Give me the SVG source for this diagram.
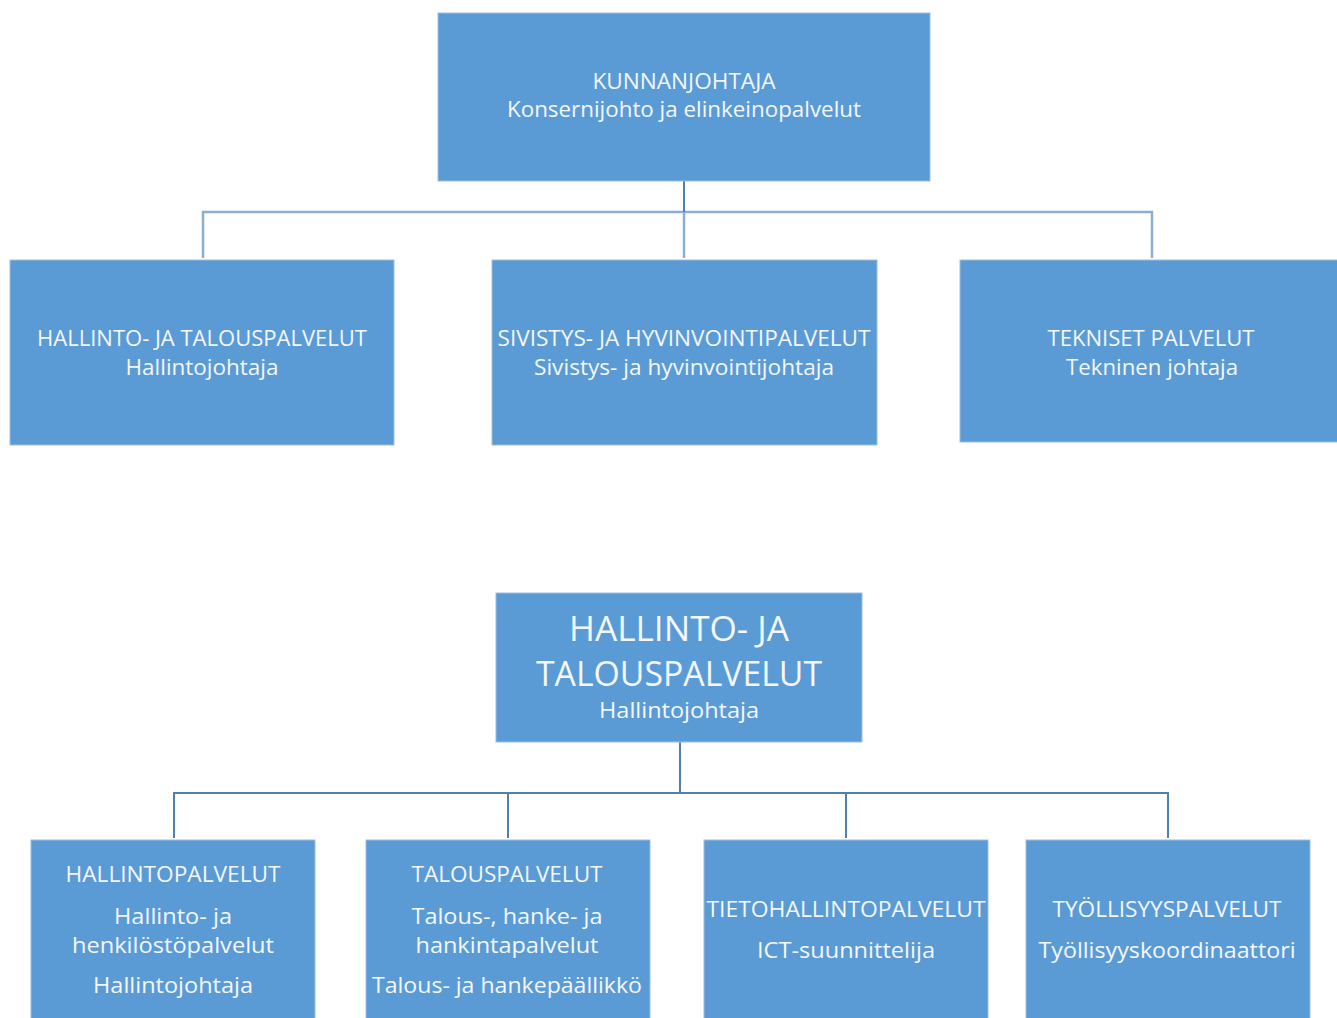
<svg xmlns="http://www.w3.org/2000/svg" width="1337" height="1018" viewBox="0 0 1337 1018">
<style>
.box{fill:#5B9BD5;stroke:#9DBEE2;stroke-width:1}
text{font-family:"Open Sans","Liberation Sans",sans-serif;fill:#F4F7FB;text-anchor:middle;font-size:22px}
.big{font-size:35px}
.c1{fill:none;stroke:#8DAED0;stroke-width:2.5}
.c2{fill:none;stroke:#4F80AE;stroke-width:2}
</style>
<rect width="1337" height="1018" fill="#FFFFFF"/>
<g id="connectors">
<path class="c1" d="M203 258V212H1152V258M684 212V258"/>
<path class="c2" d="M684 181V212"/>
<path class="c2" d="M680 742V793M174 838V793H1168V838M508 793V838M846 793V838"/>
</g>
<g id="kunnanjohtaja">
<rect class="box" x="438" y="13" width="492" height="168"/>
<text x="684" y="89" textLength="183" lengthAdjust="spacingAndGlyphs">KUNNANJOHTAJA</text>
<text x="684" y="117" textLength="354" lengthAdjust="spacingAndGlyphs">Konsernijohto ja elinkeinopalvelut</text>
</g>
<g id="hallinto">
<rect class="box" x="10" y="260" width="384" height="185"/>
<text x="202" y="346" textLength="330" lengthAdjust="spacingAndGlyphs">HALLINTO- JA TALOUSPALVELUT</text>
<text x="202" y="375" textLength="153" lengthAdjust="spacingAndGlyphs">Hallintojohtaja</text>
</g>
<g id="sivistys">
<rect class="box" x="492" y="260" width="385" height="185"/>
<text x="684" y="346" textLength="373" lengthAdjust="spacingAndGlyphs">SIVISTYS- JA HYVINVOINTIPALVELUT</text>
<text x="684" y="375" textLength="300" lengthAdjust="spacingAndGlyphs">Sivistys- ja hyvinvointijohtaja</text>
</g>
<g id="tekniset">
<rect class="box" x="960" y="260" width="380" height="182"/>
<text x="1151" y="346" textLength="207" lengthAdjust="spacingAndGlyphs">TEKNISET PALVELUT</text>
<text x="1152" y="375" textLength="172" lengthAdjust="spacingAndGlyphs">Tekninen johtaja</text>
</g>
<g id="hallinto-talous">
<rect class="box" x="496" y="593" width="366" height="149"/>
<text class="big" x="679" y="641" textLength="220" lengthAdjust="spacingAndGlyphs">HALLINTO- JA</text>
<text class="big" x="679" y="686" textLength="286" lengthAdjust="spacingAndGlyphs">TALOUSPALVELUT</text>
<text x="679" y="718" textLength="160" lengthAdjust="spacingAndGlyphs">Hallintojohtaja</text>
</g>
<g id="hallintopalvelut">
<rect class="box" x="31" y="840" width="284" height="190"/>
<text x="173" y="882" textLength="215" lengthAdjust="spacingAndGlyphs">HALLINTOPALVELUT</text>
<text x="173" y="924" textLength="118" lengthAdjust="spacingAndGlyphs">Hallinto- ja</text>
<text x="173" y="953" textLength="202" lengthAdjust="spacingAndGlyphs">henkilöstöpalvelut</text>
<text x="173" y="993" textLength="160" lengthAdjust="spacingAndGlyphs">Hallintojohtaja</text>
</g>
<g id="talouspalvelut">
<rect class="box" x="366" y="840" width="284" height="190"/>
<text x="507" y="882" textLength="191" lengthAdjust="spacingAndGlyphs">TALOUSPALVELUT</text>
<text x="507" y="924" textLength="191" lengthAdjust="spacingAndGlyphs">Talous-, hanke- ja</text>
<text x="507" y="953" textLength="183" lengthAdjust="spacingAndGlyphs">hankintapalvelut</text>
<text x="507" y="993" textLength="270" lengthAdjust="spacingAndGlyphs">Talous- ja hankepäällikkö</text>
</g>
<g id="tietohallinto">
<rect class="box" x="704" y="840" width="284" height="190"/>
<text x="846" y="917" textLength="279" lengthAdjust="spacingAndGlyphs">TIETOHALLINTOPALVELUT</text>
<text x="846" y="958" textLength="178" lengthAdjust="spacingAndGlyphs">ICT-suunnittelija</text>
</g>
<g id="tyollisyys">
<rect class="box" x="1026" y="840" width="284" height="190"/>
<text x="1167" y="917" textLength="229" lengthAdjust="spacingAndGlyphs">TYÖLLISYYSPALVELUT</text>
<text x="1167" y="958" textLength="257" lengthAdjust="spacingAndGlyphs">Työllisyyskoordinaattori</text>
</g>
</svg>
